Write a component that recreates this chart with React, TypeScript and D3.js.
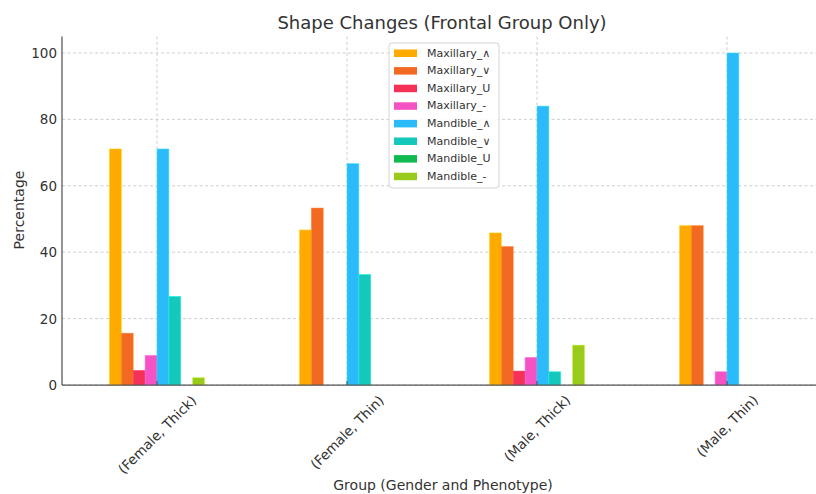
import React from "react";
import * as d3 from "d3";

const categories = ["(Female, Thick)", "(Female, Thin)", "(Male, Thick)", "(Male, Thin)"];
const seriesNames = [
  "Maxillary_\u2227",
  "Maxillary_\u2228",
  "Maxillary_U",
  "Maxillary_-",
  "Mandible_\u2227",
  "Mandible_\u2228",
  "Mandible_U",
  "Mandible_-",
];
const seriesColors = ["#FFAA00", "#F26A22", "#F53158", "#F553C3", "#2BBBFA", "#14C9BC", "#10BA50", "#9ACA1B"];
// values per series, one per category
const maxillaryUp = [71.1, 46.7, 45.8, 48.0];
const maxillaryDown = [15.6, 53.3, 41.7, 48.0];
const maxillaryU = [4.4, 0, 4.2, 0];
const maxillaryFlat = [8.9, 0, 8.3, 4.0];
const mandibleUp = [71.1, 66.7, 84.0, 100.0];
const mandibleDown = [26.7, 33.3, 4.0, 0];
const mandibleU = [0, 0, 0, 0];
const mandibleFlat = [2.2, 0, 12.0, 0];
const seriesValues = [maxillaryUp, maxillaryDown, maxillaryU, maxillaryFlat, mandibleUp, mandibleDown, mandibleU, mandibleFlat];
const yTicks = [0, 20, 40, 60, 80, 100];

const W = 816;
const H = 494;
const FONT = "DejaVu Sans, sans-serif";

// approximate DejaVu Sans advance widths (em) for label measurement
const ADV: Record<string, number> = {
  "(": 0.39, ")": 0.39, F: 0.575, e: 0.615, m: 0.974, a: 0.613, l: 0.278, ",": 0.318, " ": 0.318,
  T: 0.611, h: 0.634, i: 0.278, c: 0.55, k: 0.579, n: 0.634, M: 0.863,
};
function textWidth(s: string, fs: number) {
  let w = 0;
  for (const ch of s) w += ADV[ch] ?? 0.6;
  return w * fs;
}

export default function App() {
  const x = d3.scaleLinear().domain([-0.5, 3.5]).range([62, 822]);
  const y = d3.scaleLinear().domain([0, 105]).range([385, 36.4]);
  const groupWidth = 0.5;
  const bw = groupWidth / seriesNames.length;
  const gridColor = "#c8c8c8";
  const textColor = "#333";
  const tickFs = 13.5;

  const legendX = 389;
  const legendY = 43;
  const rowH = 17.6;

  return (
    <svg width={W} height={H} style={{ position: "absolute", left: 0, top: 0, background: "#fff" }} fontFamily={FONT}>
      {/* grid */}
      {yTicks.map((t) => (
        <line key={"gy" + t} x1={62} x2={822} y1={y(t)} y2={y(t)} stroke={gridColor} strokeDasharray="3,2.5" strokeWidth={0.9} />
      ))}
      {categories.map((c, i) => (
        <line key={"gx" + i} x1={x(i)} x2={x(i)} y1={y(105)} y2={y(0)} stroke={gridColor} strokeDasharray="3,2.5" strokeWidth={0.9} />
      ))}
      {/* bars */}
      {seriesValues.map((vals, s) =>
        vals.map((v, i) => {
          if (v <= 0) return null;
          const x0 = x(i - groupWidth / 2 + s * bw);
          const x1 = x(i - groupWidth / 2 + (s + 1) * bw);
          return (
            <rect
              key={s + "-" + i}
              x={x0}
              y={y(v)}
              width={x1 - x0}
              height={y(0) - y(v)}
              fill={seriesColors[s]}
              stroke={d3.color(seriesColors[s])!.brighter(0.6).formatHex()}
              strokeOpacity={0.6}
              strokeWidth={0.8}
            />
          );
        })
      )}
      {/* spines */}
      <line x1={62} x2={62} y1={y(105)} y2={y(0)} stroke="#555" strokeWidth={1.25} />
      <line x1={62} x2={822} y1={y(0)} y2={y(0)} stroke="#555" strokeWidth={1.25} />
      {/* x ticks */}
      {categories.map((c, i) => (
        <line key={"xt" + i} x1={x(i)} x2={x(i)} y1={y(0)} y2={y(0) - 4} stroke="#444" strokeWidth={1} />
      ))}
      {categories.map((c, i) => {
        const w = textWidth(c, tickFs);
        const h = tickFs * 1.15;
        const ext = 0.7071 * (w + h);
        const cy = y(0) + 7 + ext / 2;
        return (
          <text
            key={"xl" + i}
            transform={`translate(${x(i)},${cy}) rotate(-45)`}
            textAnchor="middle"
            dominantBaseline="central"
            fontSize={tickFs}
            fill={textColor}
          >
            {c}
          </text>
        );
      })}
      {/* y ticks */}
      {yTicks.map((t) => (
        <text key={"yt" + t} x={57} y={y(t)} textAnchor="end" dominantBaseline="central" fontSize={tickFs} fill={textColor}>
          {t}
        </text>
      ))}
      {/* labels */}
      <text x={442} y={29} textAnchor="middle" fontSize={18} fill={textColor}>
        Shape Changes (Frontal Group Only)
      </text>
      <text x={443} y={490} textAnchor="middle" fontSize={14} fill={textColor}>
        Group (Gender and Phenotype)
      </text>
      <text transform={`translate(24,210) rotate(-90)`} textAnchor="middle" fontSize={14} fill={textColor}>
        Percentage
      </text>
      {/* legend */}
      <rect x={legendX} y={legendY} width={110} height={145} rx={3} fill="#fff" fillOpacity={0.85} stroke="#d5d5d5" strokeWidth={1} />
      {seriesNames.map((n, s) => (
        <g key={"lg" + s}>
          <rect x={394} y={legendY + 10 - 3.5 + s * rowH} width={23} height={7.5} fill={seriesColors[s]} />
          <text x={427} y={legendY + 10 + s * rowH} dominantBaseline="central" fontSize={11} fill={textColor}>
            {n}
          </text>
        </g>
      ))}
    </svg>
  );
}
